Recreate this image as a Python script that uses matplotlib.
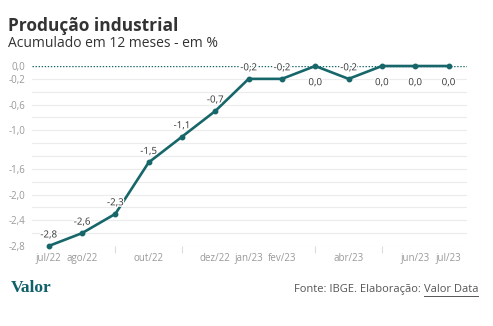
import matplotlib
matplotlib.use("Agg")
import numpy as np
from matplotlib import pyplot as plt
from matplotlib import patheffects as pe
from matplotlib.lines import Line2D

# Data
months = ['jul/22', 'ago/22', 'set/22', 'out/22', 'nov/22', 'dez/22', 'jan/23',
          'fev/23', 'mar/23', 'abr/23', 'mai/23', 'jun/23', 'jul/23']
values = [-2.8, -2.6, -2.3, -1.5, -1.1, -0.7, -0.2, -0.2, 0.0, -0.2, 0.0, 0.0, 0.0]
shown_months = ['jul/22', 'ago/22', 'out/22', 'dez/22', 'jan/23', 'fev/23', 'abr/23', 'jun/23', 'jul/23']
y_ticks = [0.0, -0.2, -0.6, -1.0, -1.6, -2.0, -2.4, -2.8]

teal = '#17666a'
plt.rcParams['font.family'] = ['Open Sans', 'DejaVu Sans']

fig = plt.figure(figsize=(4.93, 3.26), dpi=100)
ax = fig.add_axes([0.065, 0.2454, 0.882, 0.5521])

x = np.arange(len(months))
ax.plot(x, values, color=teal, lw=1.9, marker='o', ms=3.2, zorder=3, clip_on=False)

for xi, v in zip(x, values):
    lab = ('%.1f' % v).replace('.', ',')
    if v == 0:
        lab = '0,0'
    dy = -8 if (v == 0 and xi > 0 and (xi == 8 or xi >= 10)) else 4
    va = 'top' if dy < 0 else 'bottom'
    t = ax.annotate(lab, (xi, v), xytext=(0, dy), textcoords='offset points',
                    ha='center', va=va, fontsize=7, color='#333333', zorder=4)
    t.set_path_effects([pe.withStroke(linewidth=2, foreground='white')])

# grid every 0.2
for g in np.arange(-2.8, 0.01, 0.2):
    if abs(g) > 1e-9:
        ax.axhline(g, color='#ececec', lw=0.8, zorder=0)
ax.axhline(0, color=teal, lw=1.0, ls=(0, (1, 1.2)), zorder=2)

ax.set_xlim(-0.5, 12.55)
ax.set_ylim(-2.8, 0.0)
ax.set_yticks(y_ticks)
ax.set_yticklabels([('%.1f' % v).replace('.', ',') if v != 0 else '0,0' for v in y_ticks])
ax.set_xticks(x)
ax.set_xticklabels([m if m in shown_months else '' for m in months])
ax.tick_params(axis='y', length=0, labelsize=7, labelcolor='#999999', pad=5)
ax.tick_params(axis='x', length=5, color='#dddddd', labelsize=7, labelcolor='#999999', pad=0)
for tick, m in zip(ax.xaxis.get_major_ticks(), months):
    if m in shown_months:
        tick.tick1line.set_visible(False)
for s in ax.spines.values():
    s.set_visible(False)

fig.text(0.016, 0.905, 'Produção industrial', fontsize=12.5, fontweight='bold', color='#333333')
fig.text(0.016, 0.855, 'Acumulado em 12 meses - em %', fontsize=10, color='#333333')

fig.text(0.022, 0.105, 'Valor', fontsize=12.5, fontweight='bold', color='#0f6068',
         family=['Liberation Serif', 'DejaVu Serif'])

t2 = fig.text(0.97, 0.105, 'Valor Data', fontsize=8, color='#555555', ha='right')
fig.canvas.draw()
r = fig.canvas.get_renderer()
bb = t2.get_window_extent(r)
x0 = bb.x0 / fig.bbox.width
fig.text(x0, 0.105, 'Fonte: IBGE. Elaboração: ', fontsize=8, color='#555555', ha='right')
yl = (bb.y0 - 1) / fig.bbox.height
fig.add_artist(Line2D([x0, bb.x1 / fig.bbox.width], [yl, yl], color='#555555', lw=0.7))

fig.savefig('out.png', dpi=100)
